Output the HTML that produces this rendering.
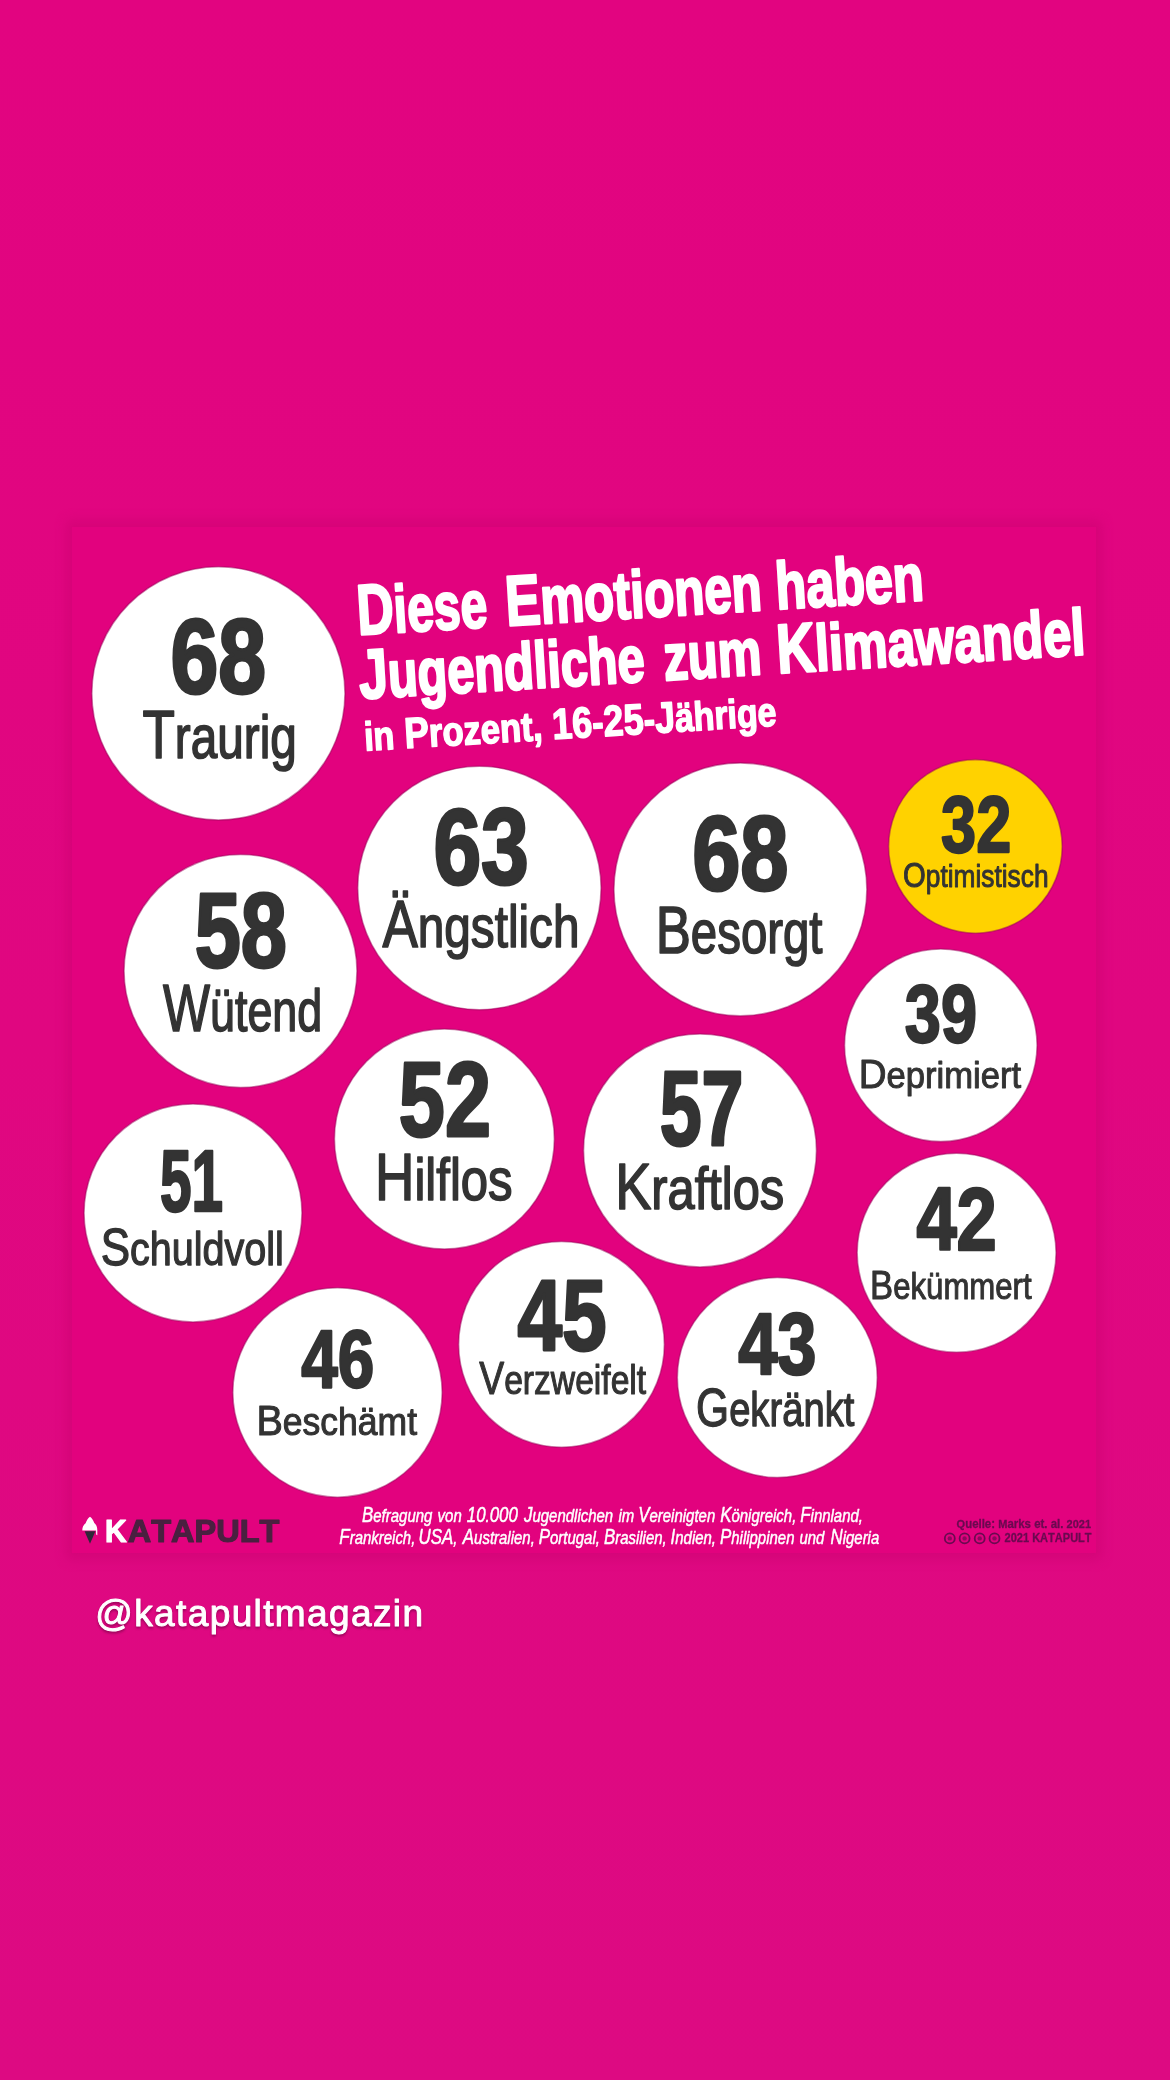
<!DOCTYPE html><html><head><meta charset="utf-8"><title>Katapult</title><style>html,body{margin:0;padding:0;background:#e00680;width:1170px;height:2080px;overflow:hidden}text{font-family:"Liberation Sans",sans-serif;font-kerning:none;font-variant-ligatures:none}</style></head><body><svg width="1170" height="2080" viewBox="0 0 1170 2080" style="display:block;font-family:'Liberation Sans',sans-serif;font-kerning:none;filter:blur(0.4px)"><defs><linearGradient id="bgg" x1="0" y1="0" x2="0" y2="1"><stop offset="0" stop-color="#e20480"/><stop offset="0.5" stop-color="#e00780"/><stop offset="1" stop-color="#dd0a82"/></linearGradient></defs><rect width="1170" height="2080" fill="url(#bgg)"/><defs><filter id="sh" x="-5%" y="-5%" width="110%" height="110%"><feGaussianBlur stdDeviation="6"/></filter><filter id="ts" x="-5%" y="-30%" width="110%" height="160%"><feGaussianBlur stdDeviation="1.2"/></filter></defs><rect x="66" y="520" width="1036" height="1040" fill="#c8006e" opacity="0.45" filter="url(#sh)"/><rect x="72" y="527" width="1024" height="1026" fill="#e2027e"/><circle cx="218.4" cy="693.4" r="126.6" fill="#fff" stroke="#9a0058" stroke-opacity="0.5" stroke-width="1.6"/><text x="170.55" y="693.36" font-size="106.07" font-weight="bold" font-style="normal" fill="#333333" textLength="95.59" lengthAdjust="spacingAndGlyphs" stroke="#333333" stroke-width="3.00" stroke-linejoin="round">68</text><text x="142.44" y="758.47" font-weight="normal" font-style="normal" fill="#333333" textLength="154.31" lengthAdjust="spacingAndGlyphs" stroke="#333333" stroke-width="1.66" stroke-linejoin="round"><tspan font-size="68.38">T</tspan><tspan font-size="61.44">raurig</tspan></text><circle cx="479.4" cy="888.0" r="121.7" fill="#fff" stroke="#9a0058" stroke-opacity="0.5" stroke-width="1.6"/><text x="433.38" y="884.14" font-size="107.15" font-weight="bold" font-style="normal" fill="#333333" textLength="95.41" lengthAdjust="spacingAndGlyphs" stroke="#333333" stroke-width="3.03" stroke-linejoin="round">63</text><text x="382.40" y="946.99" font-weight="normal" font-style="normal" fill="#333333" textLength="197.09" lengthAdjust="spacingAndGlyphs" stroke="#333333" stroke-width="1.61" stroke-linejoin="round"><tspan font-size="66.55">Ä</tspan><tspan font-size="59.80">ngstlich</tspan></text><circle cx="740.4" cy="889.4" r="126.5" fill="#fff" stroke="#9a0058" stroke-opacity="0.5" stroke-width="1.6"/><text x="692.14" y="889.75" font-size="106.61" font-weight="bold" font-style="normal" fill="#333333" textLength="96.32" lengthAdjust="spacingAndGlyphs" stroke="#333333" stroke-width="3.02" stroke-linejoin="round">68</text><text x="655.69" y="953.19" font-weight="normal" font-style="normal" fill="#333333" textLength="166.85" lengthAdjust="spacingAndGlyphs" stroke="#333333" stroke-width="1.63" stroke-linejoin="round"><tspan font-size="67.11">B</tspan><tspan font-size="60.30">esorgt</tspan></text><circle cx="975.4" cy="846.4" r="86.8" fill="#ffd200" stroke="#9a0058" stroke-opacity="0.5" stroke-width="1.6"/><text x="941.09" y="852.48" font-size="80.26" font-weight="bold" font-style="normal" fill="#333333" textLength="70.20" lengthAdjust="spacingAndGlyphs" stroke="#333333" stroke-width="2.27" stroke-linejoin="round">32</text><text x="903.09" y="887.32" font-weight="normal" font-style="normal" fill="#333333" textLength="145.43" lengthAdjust="spacingAndGlyphs" stroke="#333333" stroke-width="0.96" stroke-linejoin="round"><tspan font-size="34.65">O</tspan><tspan font-size="31.14">ptimistisch</tspan></text><circle cx="940.8" cy="1045.3" r="96.3" fill="#fff" stroke="#9a0058" stroke-opacity="0.5" stroke-width="1.6"/><text x="904.87" y="1042.05" font-size="81.62" font-weight="bold" font-style="normal" fill="#333333" textLength="72.19" lengthAdjust="spacingAndGlyphs" stroke="#333333" stroke-width="2.31" stroke-linejoin="round">39</text><text x="858.73" y="1088.21" font-weight="normal" font-style="normal" fill="#333333" textLength="162.43" lengthAdjust="spacingAndGlyphs" stroke="#333333" stroke-width="0.98" stroke-linejoin="round"><tspan font-size="40.58">D</tspan><tspan font-size="36.46">eprimiert</tspan></text><circle cx="240.5" cy="971.0" r="116.5" fill="#fff" stroke="#9a0058" stroke-opacity="0.5" stroke-width="1.6"/><text x="194.74" y="967.48" font-size="105.39" font-weight="bold" font-style="normal" fill="#333333" textLength="92.22" lengthAdjust="spacingAndGlyphs" stroke="#333333" stroke-width="2.98" stroke-linejoin="round">58</text><text x="162.98" y="1031.20" font-weight="normal" font-style="normal" fill="#333333" textLength="159.21" lengthAdjust="spacingAndGlyphs" stroke="#333333" stroke-width="1.60" stroke-linejoin="round"><tspan font-size="65.99">W</tspan><tspan font-size="59.29">ütend</tspan></text><circle cx="193.0" cy="1213.0" r="109.0" fill="#fff" stroke="#9a0058" stroke-opacity="0.5" stroke-width="1.6"/><text x="159.89" y="1211.41" font-size="87.33" font-weight="bold" font-style="normal" fill="#333333" textLength="63.05" lengthAdjust="spacingAndGlyphs" stroke="#333333" stroke-width="2.47" stroke-linejoin="round">51</text><text x="100.74" y="1265.07" font-weight="normal" font-style="normal" fill="#333333" textLength="183.18" lengthAdjust="spacingAndGlyphs" stroke="#333333" stroke-width="1.27" stroke-linejoin="round"><tspan font-size="52.23">S</tspan><tspan font-size="46.93">chuldvoll</tspan></text><circle cx="444.4" cy="1139.0" r="110.0" fill="#fff" stroke="#9a0058" stroke-opacity="0.5" stroke-width="1.6"/><text x="398.85" y="1136.08" font-size="105.39" font-weight="bold" font-style="normal" fill="#333333" textLength="92.08" lengthAdjust="spacingAndGlyphs" stroke="#333333" stroke-width="2.98" stroke-linejoin="round">52</text><text x="375.02" y="1199.70" font-weight="normal" font-style="normal" fill="#333333" textLength="137.65" lengthAdjust="spacingAndGlyphs" stroke="#333333" stroke-width="1.61" stroke-linejoin="round"><tspan font-size="66.27">H</tspan><tspan font-size="59.55">ilflos</tspan></text><circle cx="700.0" cy="1150.5" r="116.5" fill="#fff" stroke="#9a0058" stroke-opacity="0.5" stroke-width="1.6"/><text x="659.68" y="1145.37" font-size="105.93" font-weight="bold" font-style="normal" fill="#333333" textLength="83.83" lengthAdjust="spacingAndGlyphs" stroke="#333333" stroke-width="3.00" stroke-linejoin="round">57</text><text x="615.13" y="1209.01" font-weight="normal" font-style="normal" fill="#333333" textLength="169.14" lengthAdjust="spacingAndGlyphs" stroke="#333333" stroke-width="1.58" stroke-linejoin="round"><tspan font-size="65.01">K</tspan><tspan font-size="58.41">raftlos</tspan></text><circle cx="956.6" cy="1252.8" r="99.5" fill="#fff" stroke="#9a0058" stroke-opacity="0.5" stroke-width="1.6"/><text x="916.38" y="1249.75" font-size="89.77" font-weight="bold" font-style="normal" fill="#333333" textLength="80.45" lengthAdjust="spacingAndGlyphs" stroke="#333333" stroke-width="2.54" stroke-linejoin="round">42</text><text x="870.06" y="1298.90" font-weight="normal" font-style="normal" fill="#333333" textLength="161.57" lengthAdjust="spacingAndGlyphs" stroke="#333333" stroke-width="1.00" stroke-linejoin="round"><tspan font-size="41.28">B</tspan><tspan font-size="37.09">ekümmert</tspan></text><circle cx="777.3" cy="1377.5" r="100.0" fill="#fff" stroke="#9a0058" stroke-opacity="0.5" stroke-width="1.6"/><text x="738.16" y="1374.12" font-size="86.78" font-weight="bold" font-style="normal" fill="#333333" textLength="78.35" lengthAdjust="spacingAndGlyphs" stroke="#333333" stroke-width="2.46" stroke-linejoin="round">43</text><text x="696.10" y="1426.46" font-weight="normal" font-style="normal" fill="#333333" textLength="158.23" lengthAdjust="spacingAndGlyphs" stroke="#333333" stroke-width="1.28" stroke-linejoin="round"><tspan font-size="52.93">G</tspan><tspan font-size="47.56">ekränkt</tspan></text><circle cx="337.5" cy="1392.5" r="104.7" fill="#fff" stroke="#9a0058" stroke-opacity="0.5" stroke-width="1.6"/><text x="301.15" y="1387.26" font-size="80.94" font-weight="bold" font-style="normal" fill="#333333" textLength="73.08" lengthAdjust="spacingAndGlyphs" stroke="#333333" stroke-width="2.29" stroke-linejoin="round">46</text><text x="256.48" y="1435.28" font-weight="normal" font-style="normal" fill="#333333" textLength="160.57" lengthAdjust="spacingAndGlyphs" stroke="#333333" stroke-width="1.03" stroke-linejoin="round"><tspan font-size="42.68">B</tspan><tspan font-size="38.35">eschämt</tspan></text><circle cx="561.5" cy="1344.4" r="102.9" fill="#fff" stroke="#9a0058" stroke-opacity="0.5" stroke-width="1.6"/><text x="517.49" y="1349.72" font-size="99.28" font-weight="bold" font-style="normal" fill="#333333" textLength="89.13" lengthAdjust="spacingAndGlyphs" stroke="#333333" stroke-width="2.81" stroke-linejoin="round">45</text><text x="479.19" y="1394.45" font-weight="normal" font-style="normal" fill="#333333" textLength="167.01" lengthAdjust="spacingAndGlyphs" stroke="#333333" stroke-width="1.10" stroke-linejoin="round"><tspan font-size="45.35">V</tspan><tspan font-size="40.75">erzweifelt</tspan></text><g transform="translate(359,636) rotate(-3.5)"><text x="-0.67" y="-1.25" font-weight="bold" font-style="normal" fill="#fff" textLength="130.26" lengthAdjust="spacingAndGlyphs" stroke="#fff" stroke-width="2.50" stroke-linejoin="round"><tspan font-size="71.22">D</tspan><tspan font-size="66.78">iese</tspan></text><text x="148.04" y="-1.25" font-weight="bold" font-style="normal" fill="#fff" textLength="256.57" lengthAdjust="spacingAndGlyphs" stroke="#fff" stroke-width="2.50" stroke-linejoin="round"><tspan font-size="71.22">E</tspan><tspan font-size="66.78">motionen</tspan></text><text x="418.53" y="-1.25" font-weight="bold" font-style="normal" fill="#fff" textLength="148.45" lengthAdjust="spacingAndGlyphs" stroke="#fff" stroke-width="2.50" stroke-linejoin="round"><tspan font-size="66.78">haben</tspan></text><text x="-2.54" y="62.75" font-weight="bold" font-style="normal" fill="#fff" textLength="285.95" lengthAdjust="spacingAndGlyphs" stroke="#fff" stroke-width="2.50" stroke-linejoin="round"><tspan font-size="69.77">J</tspan><tspan font-size="65.41">ugendliche</tspan></text><text x="302.39" y="62.75" font-weight="bold" font-style="normal" fill="#fff" textLength="98.00" lengthAdjust="spacingAndGlyphs" stroke="#fff" stroke-width="2.50" stroke-linejoin="round"><tspan font-size="65.41">zum</tspan></text><text x="415.87" y="62.75" font-weight="bold" font-style="normal" fill="#fff" textLength="308.83" lengthAdjust="spacingAndGlyphs" stroke="#fff" stroke-width="2.50" stroke-linejoin="round"><tspan font-size="69.77">K</tspan><tspan font-size="65.41">limawandel</tspan></text><text x="-1.13" y="114.95" font-weight="bold" font-style="normal" fill="#fff" textLength="30.29" lengthAdjust="spacingAndGlyphs" stroke="#fff" stroke-width="1.50" stroke-linejoin="round"><tspan font-size="40.61">in</tspan></text><text x="39.28" y="114.95" font-weight="bold" font-style="normal" fill="#fff" textLength="138.09" lengthAdjust="spacingAndGlyphs" stroke="#fff" stroke-width="1.50" stroke-linejoin="round"><tspan font-size="43.31">P</tspan><tspan font-size="40.61">rozent,</tspan></text><text x="187.38" y="114.95" font-weight="bold" font-style="normal" fill="#fff" textLength="224.53" lengthAdjust="spacingAndGlyphs" stroke="#fff" stroke-width="1.50" stroke-linejoin="round"><tspan font-size="43.31">16</tspan><tspan font-size="40.61">-</tspan><tspan font-size="43.31">25</tspan><tspan font-size="40.61">-</tspan><tspan font-size="43.31">J</tspan><tspan font-size="40.61">ährige</tspan></text></g><text x="362.03" y="1521.75" font-weight="normal" font-style="italic" fill="#fff" textLength="70.35" lengthAdjust="spacingAndGlyphs" stroke="#fff" stroke-width="0.50" stroke-linejoin="round"><tspan font-size="21.66">B</tspan><tspan font-size="19.18">efragung</tspan></text><text x="437.60" y="1521.75" font-weight="normal" font-style="italic" fill="#fff" textLength="24.13" lengthAdjust="spacingAndGlyphs" stroke="#fff" stroke-width="0.50" stroke-linejoin="round"><tspan font-size="19.18">von</tspan></text><text x="466.78" y="1521.75" font-weight="normal" font-style="italic" fill="#fff" textLength="51.15" lengthAdjust="spacingAndGlyphs" stroke="#fff" stroke-width="0.50" stroke-linejoin="round"><tspan font-size="21.66">10</tspan><tspan font-size="19.18">.</tspan><tspan font-size="21.66">000</tspan></text><text x="524.00" y="1521.75" font-weight="normal" font-style="italic" fill="#fff" textLength="89.17" lengthAdjust="spacingAndGlyphs" stroke="#fff" stroke-width="0.50" stroke-linejoin="round"><tspan font-size="21.66">J</tspan><tspan font-size="19.18">ugendlichen</tspan></text><text x="618.41" y="1521.75" font-weight="normal" font-style="italic" fill="#fff" textLength="15.79" lengthAdjust="spacingAndGlyphs" stroke="#fff" stroke-width="0.50" stroke-linejoin="round"><tspan font-size="19.18">im</tspan></text><text x="638.21" y="1521.75" font-weight="normal" font-style="italic" fill="#fff" textLength="77.00" lengthAdjust="spacingAndGlyphs" stroke="#fff" stroke-width="0.50" stroke-linejoin="round"><tspan font-size="21.66">V</tspan><tspan font-size="19.18">ereinigten</tspan></text><text x="720.18" y="1521.75" font-weight="normal" font-style="italic" fill="#fff" textLength="76.16" lengthAdjust="spacingAndGlyphs" stroke="#fff" stroke-width="0.50" stroke-linejoin="round"><tspan font-size="21.66">K</tspan><tspan font-size="19.18">önigreich,</tspan></text><text x="800.24" y="1521.75" font-weight="normal" font-style="italic" fill="#fff" textLength="62.75" lengthAdjust="spacingAndGlyphs" stroke="#fff" stroke-width="0.50" stroke-linejoin="round"><tspan font-size="21.66">F</tspan><tspan font-size="19.18">innland,</tspan></text><text x="339.33" y="1544.35" font-weight="normal" font-style="italic" fill="#fff" textLength="76.03" lengthAdjust="spacingAndGlyphs" stroke="#fff" stroke-width="0.50" stroke-linejoin="round"><tspan font-size="21.66">F</tspan><tspan font-size="19.18">rankreich,</tspan></text><text x="418.58" y="1544.35" font-weight="normal" font-style="italic" fill="#fff" textLength="38.91" lengthAdjust="spacingAndGlyphs" stroke="#fff" stroke-width="0.50" stroke-linejoin="round"><tspan font-size="21.66">USA</tspan><tspan font-size="19.18">,</tspan></text><text x="462.80" y="1544.35" font-weight="normal" font-style="italic" fill="#fff" textLength="72.00" lengthAdjust="spacingAndGlyphs" stroke="#fff" stroke-width="0.50" stroke-linejoin="round"><tspan font-size="21.66">A</tspan><tspan font-size="19.18">ustralien,</tspan></text><text x="538.75" y="1544.35" font-weight="normal" font-style="italic" fill="#fff" textLength="61.19" lengthAdjust="spacingAndGlyphs" stroke="#fff" stroke-width="0.50" stroke-linejoin="round"><tspan font-size="21.66">P</tspan><tspan font-size="19.18">ortugal,</tspan></text><text x="603.90" y="1544.35" font-weight="normal" font-style="italic" fill="#fff" textLength="62.84" lengthAdjust="spacingAndGlyphs" stroke="#fff" stroke-width="0.50" stroke-linejoin="round"><tspan font-size="21.66">B</tspan><tspan font-size="19.18">rasilien,</tspan></text><text x="670.55" y="1544.35" font-weight="normal" font-style="italic" fill="#fff" textLength="45.47" lengthAdjust="spacingAndGlyphs" stroke="#fff" stroke-width="0.50" stroke-linejoin="round"><tspan font-size="21.66">I</tspan><tspan font-size="19.18">ndien,</tspan></text><text x="719.97" y="1544.35" font-weight="normal" font-style="italic" fill="#fff" textLength="74.51" lengthAdjust="spacingAndGlyphs" stroke="#fff" stroke-width="0.50" stroke-linejoin="round"><tspan font-size="21.66">P</tspan><tspan font-size="19.18">hilippinen</tspan></text><text x="799.39" y="1544.35" font-weight="normal" font-style="italic" fill="#fff" textLength="24.97" lengthAdjust="spacingAndGlyphs" stroke="#fff" stroke-width="0.50" stroke-linejoin="round"><tspan font-size="19.18">und</tspan></text><text x="830.45" y="1544.35" font-weight="normal" font-style="italic" fill="#fff" textLength="48.81" lengthAdjust="spacingAndGlyphs" stroke="#fff" stroke-width="0.50" stroke-linejoin="round"><tspan font-size="21.66">N</tspan><tspan font-size="19.18">igeria</tspan></text><text x="956.60" y="1528.05" font-weight="bold" font-style="normal" fill="#6a0a50" textLength="134.46" lengthAdjust="spacingAndGlyphs" stroke="#6a0a50" stroke-width="0.30" stroke-linejoin="round"><tspan font-size="11.77">Q</tspan><tspan font-size="12.27">uelle: </tspan><tspan font-size="11.77">M</tspan><tspan font-size="12.27">arks et. al. </tspan><tspan font-size="11.77">2021</tspan></text><text x="1004.57" y="1542.05" font-size="12.21" font-weight="bold" font-style="normal" fill="#6a0a50" textLength="87.00" lengthAdjust="spacingAndGlyphs" stroke="#6a0a50" stroke-width="0.30" stroke-linejoin="round">2021 KATAPULT</text><circle cx="949.8" cy="1538.4" r="5" fill="none" stroke="#6a0a50" stroke-width="1.8"/><circle cx="949.8" cy="1538.4" r="2.2" fill="#6a0a50" opacity="0.7"/><circle cx="964.6" cy="1538.4" r="5" fill="none" stroke="#6a0a50" stroke-width="1.8"/><circle cx="964.6" cy="1538.4" r="2.2" fill="#6a0a50" opacity="0.7"/><circle cx="979.7" cy="1538.4" r="5" fill="none" stroke="#6a0a50" stroke-width="1.8"/><circle cx="979.7" cy="1538.4" r="2.2" fill="#6a0a50" opacity="0.7"/><circle cx="994.5" cy="1538.4" r="5" fill="none" stroke="#6a0a50" stroke-width="1.8"/><circle cx="994.5" cy="1538.4" r="2.2" fill="#6a0a50" opacity="0.7"/><path d="M82.3 1530.6 C82.2 1527.5 83.3 1525 85.6 1523.2 C86.6 1520.3 88.3 1517.6 90 1516.7 C91.7 1517.8 93.3 1520.3 94.3 1523 C96.4 1524.6 97.4 1527.3 97.3 1530.6 L97.3 1535.3 C96.5 1535.3 96.1 1534.3 96.1 1533 L96.1 1530.6 Z" fill="#fff"/><path d="M84.6 1531.2 L95.4 1531.2 L90 1543.8 Z" fill="#2d2838"/><text x="104.99" y="1542.10" font-size="30.81" font-weight="bold" font-style="normal" fill="#fff" textLength="21.69" lengthAdjust="spacingAndGlyphs" stroke="#fff" stroke-width="1.20" stroke-linejoin="round">K</text><text x="127.79" y="1542.10" font-size="30.81" font-weight="bold" font-style="normal" fill="#4a2040" textLength="151.56" lengthAdjust="spacingAndGlyphs" stroke="#4a2040" stroke-width="1.20" stroke-linejoin="round">ATAPULT</text><g filter="url(#ts)" opacity="0.4"><text x="95.29" y="1627.50" font-size="37.00" fill="#400028" letter-spacing="1.381" stroke="#400028" stroke-width="1.00" stroke-linejoin="round">@katapultmagazin</text></g><text x="95.29" y="1626.00" font-size="37.00" fill="#fff" letter-spacing="1.381" stroke="#fff" stroke-width="1.00" stroke-linejoin="round">@katapultmagazin</text></svg></body></html>
